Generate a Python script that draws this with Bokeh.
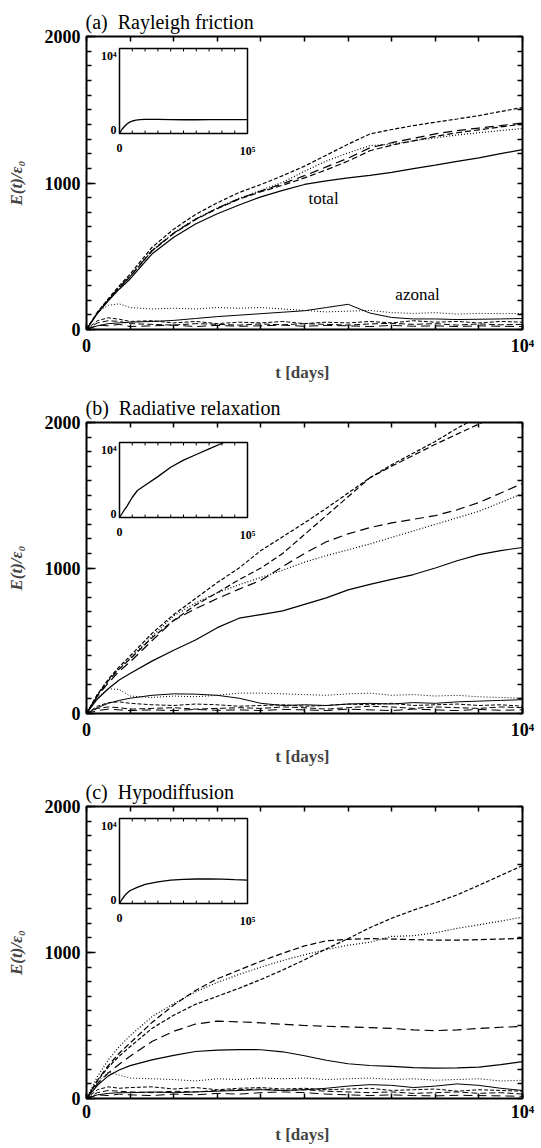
from bokeh.plotting import figure
from bokeh.models import Range1d, FixedTicker, LinearAxis, Title
from bokeh.layouts import column
from bokeh.embed import file_html
from bokeh.resources import INLINE
from bokeh.core.properties import value

# ---------------- data ----------------
T = [0, 250, 500, 750, 1000, 1500, 2000, 2500, 3000, 3500, 4000, 4500, 5000,
     5500, 6000, 6500, 7000, 7500, 8000, 8500, 9000, 9500, 10000]

# (a) Rayleigh friction: total energy
a_tot_solid = [0,110,195,275,345,515,630,720,790,850,905,950,990,1015,1035,1052,1072,1098,1122,1148,1172,1200,1228]
a_tot_dot = [0,115,205,290,365,540,660,755,830,895,950,1005,1080,1150,1205,1255,1265,1288,1308,1328,1343,1358,1372]
a_tot_short = [0,118,210,298,378,560,685,785,865,935,990,1050,1115,1190,1265,1335,1365,1392,1415,1437,1460,1488,1515]
a_tot_medium = [0,112,200,285,360,535,655,750,825,890,940,985,1035,1090,1150,1220,1258,1288,1318,1343,1363,1383,1402]
a_tot_long = [0,114,202,288,362,538,658,752,828,893,945,995,1050,1110,1170,1240,1275,1305,1335,1358,1375,1392,1410]
# (a) azonal energy
a_az_solid = [0,25,40,45,50,55,62,75,88,98,108,118,128,150,172,112,82,72,72,68,70,72,75]
a_az_dot = [0,120,165,175,150,140,145,140,150,145,150,140,130,120,125,130,115,110,115,105,110,108,110]
a_az_short = [0,60,80,70,55,60,45,55,40,50,45,55,40,50,45,55,45,60,50,55,45,55,50]
a_az_medium = [0,45,60,55,40,35,30,40,35,30,38,32,40,35,30,38,42,35,40,30,38,32,35]
a_az_long = [0,30,25,35,20,25,30,20,28,22,25,30,22,28,25,20,28,22,25,20,25,22,20]

# (b) Radiative relaxation
b_tot_solid = [0,100,170,230,275,360,435,505,590,655,680,705,750,795,850,888,922,955,1000,1050,1092,1120,1141]
b_tot_dot = [0,130,230,310,380,530,670,760,830,885,935,985,1040,1085,1125,1165,1210,1255,1300,1345,1390,1450,1512]
b_tot_short = [0,130,235,320,395,550,680,790,900,1000,1120,1215,1310,1410,1515,1620,1710,1790,1870,1960,2040,2100,2150]
b_tot_medium = [0,125,225,305,375,520,640,745,830,920,1000,1100,1230,1360,1490,1620,1700,1775,1850,1920,1990,2060,2130]
b_tot_long = [0,120,210,290,355,500,640,720,790,855,915,1010,1100,1180,1235,1278,1310,1335,1360,1400,1450,1515,1581]
b_az_solid = [0,40,70,90,105,125,135,133,125,105,70,55,60,55,65,70,65,75,70,80,85,90,95]
b_az_dot = [0,110,170,165,120,110,120,115,125,140,140,135,130,125,135,140,125,130,120,125,115,110,105]
b_az_short = [0,50,75,80,70,60,55,65,60,50,55,60,50,55,65,60,70,55,60,65,55,60,50]
b_az_medium = [0,35,45,40,30,35,40,30,35,40,35,45,40,30,40,50,45,35,45,40,35,45,40]
b_az_long = [0,20,30,25,20,25,20,28,22,25,20,28,25,20,30,25,20,30,25,20,28,22,25]

# (c) Hypodiffusion
c_tot_solid = [0,90,155,195,225,265,295,322,332,335,334,320,293,262,238,226,220,212,208,210,215,232,253]
c_tot_dot = [0,150,265,355,430,560,650,730,795,850,900,945,985,1020,1050,1070,1110,1115,1135,1165,1190,1215,1242]
c_tot_short = [0,120,215,290,355,480,570,645,700,755,815,880,950,1025,1095,1170,1235,1290,1340,1395,1460,1528,1595]
c_tot_medium = [0,125,225,310,380,520,640,740,820,880,940,995,1045,1080,1090,1095,1092,1088,1085,1085,1088,1092,1096]
c_tot_long = [0,100,175,235,290,390,460,510,530,525,518,508,500,495,490,486,480,470,465,470,480,488,493]
c_az_solid = [0,25,35,40,40,45,40,45,50,55,60,55,60,70,85,95,90,75,85,100,90,70,55]
c_az_dot = [0,110,180,160,140,135,130,120,135,130,140,135,140,130,135,140,130,135,125,130,135,120,125]
c_az_short = [0,60,80,70,75,80,65,75,60,70,75,65,70,60,65,70,55,60,65,50,60,55,50]
c_az_medium = [0,40,55,50,45,40,50,45,55,60,65,55,60,50,45,40,45,35,40,45,35,40,30]
c_az_long = [0,25,20,30,25,20,30,25,35,30,40,45,40,30,25,20,25,20,18,22,20,18,15]

# insets (long runs, t up to 1e5 days)
ia_t = [0,2000,4000,6000,8000,10000,13000,16000,20000,30000,40000,50000,60000,70000,80000,90000,100000]
ia_e = [0,500,850,1140,1340,1470,1580,1630,1650,1660,1640,1620,1620,1630,1640,1640,1630]
ib_t = [0,3000,6000,10000,14000,20000,30000,40000,50000,60000,70000,81500]
ib_e = [0,800,1560,2700,3600,4300,5450,6700,7650,8400,9150,10000]
ic_t = [0,2000,5000,8000,13800,20000,30000,40000,50000,60000,70000,80000,90000,100000]
ic_e = [0,500,1100,1500,1900,2250,2550,2750,2850,2880,2880,2870,2800,2740]

TITLES = ["(a)\u00a0 Rayleigh friction", "(b)\u00a0 Radiative relaxation", "(c)\u00a0 Hypodiffusion"]
X_LABEL = "t  [days]"
Y_LABEL = "E(t)/\u03b5\u2080"
X_MAX, Y_MAX = 10000, 2000
IX_MAX, IY_MAX = 100000, 10000

# ---------------- style / layout ----------------
FONT = "Liberation Serif"
STYLES = ["solid", "1 2", "4 2", "6 3", "9 5"]
FW = 436          # frame width px
TOP = 36


def make_panel(title, totals, azonals, it, ie, frame_h, bottom, inset_top, inset_bot,
               tick_standoff, label_standoff, notes=None):
    H = TOP + frame_h + bottom
    p = figure(width=541, height=H, x_range=Range1d(0, X_MAX), y_range=Range1d(0, Y_MAX),
               x_axis_type=None, y_axis_type=None, output_backend="svg", toolbar_location=None,
               min_border_left=86, min_border_right=19, min_border_top=TOP, min_border_bottom=bottom)
    p.outline_line_color = "black"
    p.outline_line_width = 2
    p.background_fill_color = "white"
    p.border_fill_color = "white"

    p.title = Title(text=title, align="left", text_font=FONT, text_font_size="20px",
                    text_font_style="normal", text_color="black", standoff=8, offset=-1)

    def style(ax, maj, mino):
        ax.axis_line_color = None
        ax.major_tick_in = maj
        ax.major_tick_out = 0
        ax.minor_tick_in = mino
        ax.minor_tick_out = 0
        ax.major_tick_line_width = 1.5
        ax.minor_tick_line_width = 1.5
        ax.major_label_text_font = FONT
        ax.major_label_text_font_style = "bold"
        ax.major_label_text_font_size = "18px"
        ax.major_label_text_color = "black"

    xb = LinearAxis(ticker=FixedTicker(ticks=[0, X_MAX], minor_ticks=list(range(0, X_MAX + 1, 1000))))
    style(xb, 5, 5)
    xb.major_label_standoff = tick_standoff
    xb.major_label_overrides = {0: "0", X_MAX: "10\u2074"}
    xb.axis_label = X_LABEL
    xb.axis_label_text_font = FONT
    xb.axis_label_text_font_style = "bold"
    xb.axis_label_text_font_size = "17px"
    xb.axis_label_standoff = label_standoff
    p.add_layout(xb, "below")

    # top and right: tick marks only (minor-only tickers, so no labels)
    xa = LinearAxis(ticker=FixedTicker(ticks=[], minor_ticks=list(range(0, X_MAX + 1, 1000))))
    style(xa, 5, 5)
    xa.major_label_standoff = 0
    p.add_layout(xa, "above")

    yl = LinearAxis(ticker=FixedTicker(ticks=[0, 1000, 2000], minor_ticks=list(range(0, Y_MAX + 1, 100))))
    style(yl, 9, 5)
    yl.major_label_standoff = 6
    yl.axis_label = Y_LABEL
    yl.axis_label_text_font = FONT
    yl.axis_label_text_font_style = "bold italic"
    yl.axis_label_text_font_size = "17px"
    yl.axis_label_standoff = 16
    p.add_layout(yl, "left")

    yr = LinearAxis(ticker=FixedTicker(ticks=[], minor_ticks=list(range(0, Y_MAX + 1, 100))))
    style(yr, 5, 5)
    yr.major_label_standoff = 0
    p.add_layout(yr, "right")

    # curves
    for ys, d in zip(totals, STYLES):
        p.line(T, ys, line_color="black", line_width=1.2, line_dash=d)
    for ys, d in zip(azonals, STYLES):
        p.line(T, ys, line_color="black", line_width=1.0, line_dash=d)

    # inset: own scales mapped onto a sub-box of the frame
    L, R = 119 - 86, 247 - 86
    sx = IX_MAX / (R - L)
    sy = IY_MAX / (inset_bot - inset_top)
    x0 = -L * sx
    y0 = -(frame_h - inset_bot) * sy
    p.extra_x_ranges = {"ix": Range1d(x0, x0 + FW * sx)}
    p.extra_y_ranges = {"iy": Range1d(y0, y0 + frame_h * sy)}
    kw = dict(x_range_name="ix", y_range_name="iy")
    p.quad(left=[0], right=[IX_MAX], bottom=[0], top=[IY_MAX], fill_color="white",
           line_color="black", line_width=1.5, **kw)
    tx = list(range(0, IX_MAX + 1, 10000))
    n = len(tx)
    p.segment(x0=tx, y0=[0] * n, x1=tx, y1=[3 * sy] * n, line_color="black", line_width=1, **kw)
    p.segment(x0=tx, y0=[IY_MAX] * n, x1=tx, y1=[IY_MAX - 3 * sy] * n, line_color="black", line_width=1, **kw)
    p.line(it, ie, line_color="black", line_width=1.3, **kw)
    tf = dict(text_font=value(FONT), text_font_style="bold", text_font_size="12px", text_color="black")
    p.text(x=[0], y=[IY_MAX], text=["10\u2074"], text_align="right", text_baseline="top", x_offset=-3, **tf, **kw)
    p.text(x=[0], y=[0], text=["0"], text_align="right", text_baseline="bottom", x_offset=-3, **tf, **kw)
    p.text(x=[0, IX_MAX], y=[-10 * sy] * 2, text=["0", "10\u2075"], text_align="center", text_baseline="top", **tf, **kw)

    if notes:
        for (tx_, ty_, s) in notes:
            p.text(x=[tx_], y=[ty_], text=[s], text_align="center", text_baseline="middle",
                   text_font=value(FONT), text_font_size="17px", text_color="black")
    return p


pa = make_panel(TITLES[0],
                [a_tot_solid, a_tot_dot, a_tot_short, a_tot_medium, a_tot_long],
                [a_az_solid, a_az_dot, a_az_short, a_az_medium, a_az_long],
                ia_t, ia_e, 293, 57, 12, 97, 6, 4,
                notes=[(5436, 894, "total"), (7592, 239, "azonal")])
pb = make_panel(TITLES[1],
                [b_tot_solid, b_tot_dot, b_tot_short, b_tot_medium, b_tot_long],
                [b_az_solid, b_az_dot, b_az_short, b_az_medium, b_az_long],
                ib_t, ib_e, 291, 57, 20, 95, 6, 4)
pc = make_panel(TITLES[2],
                [c_tot_solid, c_tot_dot, c_tot_short, c_tot_medium, c_tot_long],
                [c_az_solid, c_az_dot, c_az_short, c_az_medium, c_az_long],
                ic_t, ic_e, 292, 50, 12, 97, 3, 0)

layout = column(pa, pb, pc)
open("out.html", "w").write(file_html(layout, INLINE))
